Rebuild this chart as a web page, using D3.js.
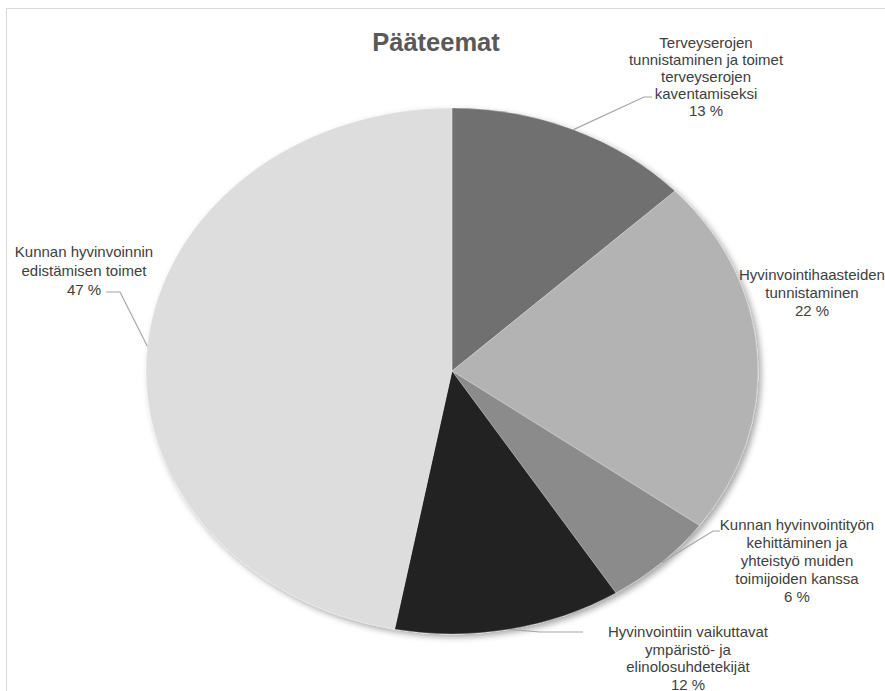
<!DOCTYPE html>
<html>
<head>
<meta charset="utf-8">
<script src="https://cdn.jsdelivr.net/npm/d3@7"></script>
<style>
  html, body { margin: 0; padding: 0; background: #fff; }
  svg { display: block; }
</style>
</head>
<body>
<div id="chart"></div>
<script>
'use strict';

// data, clockwise from 12 o'clock
var categories = [
  'Terveyserojen|tunnistaminen ja toimet|terveyserojen|kaventamiseksi',
  'Hyvinvointihaasteiden|tunnistaminen',
  'Kunnan hyvinvointityön|kehittäminen ja|yhteistyö muiden|toimijoiden kanssa',
  'Hyvinvointiin vaikuttavat|ympäristö- ja|elinolosuhdetekijät',
  'Kunnan hyvinvoinnin|edistämisen toimet'
];
var values = [13, 22, 6, 12, 47];
var colors = ['#707070', '#b3b3b3', '#8b8b8b', '#202020', '#dddddd'];

var width = 885, height = 691;
var cx = 452, cy = 371, rx = 306, ry = 263;

// label block placement (centre x, first baseline y, line step) and leader elbow
var labelPos = [
  { x: 706, y: 48, step: 17, elbow: [644, 97], end: [652, 97] },
  { x: 812, y: 280, step: 18, elbow: null, end: null },
  { x: 797, y: 530, step: 18, elbow: [713, 531], end: [720, 531] },
  { x: 688, y: 637, step: 17.5, elbow: [540, 632], end: [583, 632] },
  { x: 84, y: 257, step: 19, elbow: [120, 292], end: [106, 292] }
];

var svg = d3.select('#chart').append('svg')
  .attr('width', width)
  .attr('height', height);

var defs = svg.append('defs');
var shadow = defs.append('filter').attr('id', 'shadow')
  .attr('x', '-10%').attr('y', '-10%').attr('width', '120%').attr('height', '120%');
shadow.append('feDropShadow')
  .attr('dx', 3).attr('dy', 3).attr('stdDeviation', 3)
  .attr('flood-color', '#000').attr('flood-opacity', 0.35);

// chart area border
svg.append('rect')
  .attr('x', 6.5).attr('y', 8.5)
  .attr('width', width + 20).attr('height', height + 20)
  .attr('fill', 'none')
  .attr('stroke', '#d9d9d9')
  .attr('stroke-width', 1);

svg.append('text')
  .attr('x', 436)
  .attr('y', 51)
  .attr('text-anchor', 'middle')
  .attr('font-family', 'Liberation Sans, Arial, sans-serif')
  .attr('font-weight', 'bold')
  .attr('font-size', 25.5)
  .attr('fill', '#595959')
  .text('Pääteemat');

var pie = d3.pie().sort(null).value(function (d) { return d; });
var arcs = pie(values);
var arc = d3.arc().innerRadius(0).outerRadius(ry);

var pieG = svg.append('g')
  .attr('filter', 'url(#shadow)')
  .append('g')
  .attr('transform', 'translate(' + cx + ',' + cy + ') scale(' + (rx / ry) + ',1)');

pieG.selectAll('path')
  .data(arcs)
  .join('path')
  .attr('d', arc)
  .attr('fill', function (d, i) { return colors[i]; })
  .attr('stroke', '#ffffff')
  .attr('stroke-opacity', 0.35)
  .attr('stroke-width', 0.8)
  .attr('vector-effect', 'non-scaling-stroke');

function edgePoint(d) {
  var a = (d.startAngle + d.endAngle) / 2;
  return [cx + rx * Math.sin(a), cy - ry * Math.cos(a)];
}

// leader lines
var leaders = svg.append('g');
arcs.forEach(function (d, i) {
  var p = labelPos[i];
  if (!p.elbow) return;
  var s = edgePoint(d);
  leaders.append('path')
    .attr('d', d3.line()([s, p.elbow, p.end]))
    .attr('fill', 'none')
    .attr('stroke', '#a6a6a6')
    .attr('stroke-width', 1.2);
});

// labels
var labels = svg.append('g')
  .attr('font-family', 'Liberation Sans, Arial, sans-serif')
  .attr('font-size', 15)
  .attr('fill', '#404040')
  .attr('text-anchor', 'middle');

categories.forEach(function (c, i) {
  var lines = c.split('|').concat([values[i] + ' %']);
  var t = labels.append('text')
    .attr('x', labelPos[i].x)
    .attr('y', labelPos[i].y);
  lines.forEach(function (ln, j) {
    t.append('tspan')
      .attr('x', labelPos[i].x)
      .attr('dy', j === 0 ? 0 : labelPos[i].step)
      .text(ln);
  });
});
</script>
</body>
</html>
